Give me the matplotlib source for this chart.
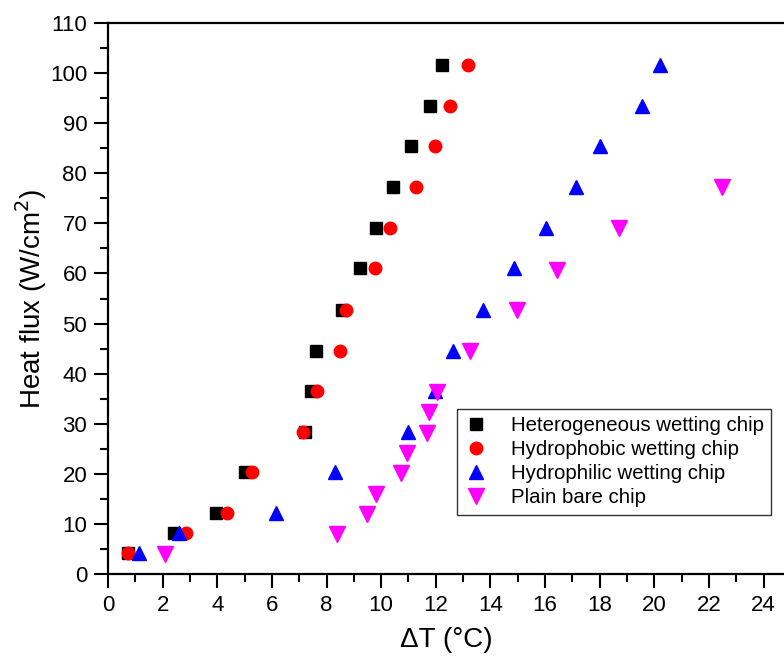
import numpy as np
import matplotlib.pyplot as plt
from matplotlib.ticker import MultipleLocator

# heat flux levels (W/cm^2)
q_het = [4.1, 8.1, 12.2, 20.3, 28.4, 36.5, 44.6, 52.8, 61.0, 69.1, 77.3, 85.4, 93.5, 101.7]
dt_het = [0.73, 2.41, 3.95, 5.01, 7.2, 7.43, 7.6, 8.56, 9.22, 9.8, 10.43, 11.09, 11.78, 12.22]

q_phob = [4.1, 8.1, 12.2, 20.3, 28.4, 36.5, 44.6, 52.8, 61.0, 69.1, 77.3, 85.4, 93.5, 101.7]
dt_phob = [0.73, 2.85, 4.34, 5.27, 7.15, 7.65, 8.49, 8.73, 9.77, 10.34, 11.29, 11.98, 12.51, 13.18]

q_phil = [4.1, 8.1, 12.2, 20.3, 28.4, 36.5, 44.6, 52.8, 61.0, 69.1, 77.3, 85.4, 93.5, 101.7]
dt_phil = [1.15, 2.61, 6.14, 8.32, 11.0, 11.98, 12.63, 13.73, 14.86, 16.05, 17.12, 18.03, 19.56, 20.22]

q_bare = [3.9, 7.9, 12.0, 16.0, 20.1, 24.1, 28.2, 32.3, 36.4, 44.6, 52.7, 60.6, 69.0, 77.2]
dt_bare = [2.09, 8.4, 9.49, 9.81, 10.74, 10.93, 11.68, 11.75, 12.05, 13.27, 14.97, 16.44, 18.71, 22.49]

plt.rcParams['font.family'] = ['Liberation Sans', 'DejaVu Sans']

fig = plt.figure(figsize=(7.84, 6.57), dpi=100)
ax = fig.add_axes([108 / 784, 83 / 657, 1 - 108 / 784, 551 / 657])

ax.plot(dt_het, q_het, 's', color='black', ms=8, label='Heterogeneous wetting chip')
ax.plot(dt_phob, q_phob, 'o', color='red', ms=9, label='Hydrophobic wetting chip')
ax.plot(dt_phil, q_phil, '^', color='blue', ms=10.5, label='Hydrophilic wetting chip')
ax.plot(dt_bare, q_bare, 'v', color='magenta', ms=11, label='Plain bare chip')

ax.set_xlim(0, 24.75)
ax.set_ylim(0, 110)
ax.xaxis.set_major_locator(MultipleLocator(2))
ax.xaxis.set_minor_locator(MultipleLocator(1))
ax.yaxis.set_major_locator(MultipleLocator(10))
ax.yaxis.set_minor_locator(MultipleLocator(5))

ax.spines['right'].set_visible(False)
for s in ['left', 'bottom', 'top']:
    ax.spines[s].set_linewidth(1.6)
ax.tick_params(which='major', direction='out', length=10, width=1.5)
ax.tick_params(which='minor', direction='out', length=6, width=1.5)
ax.tick_params(axis='y', labelsize=16, pad=5)
ax.tick_params(axis='x', labelsize=16, pad=5)

ax.set_xlabel('ΔT (°C)', fontsize=20, labelpad=8)
ax.set_ylabel('Heat flux (W/cm$^2$)', fontsize=20, labelpad=1)

leg = ax.legend(loc='upper left', bbox_to_anchor=(457 / 784, 1 - 409 / 657),
                bbox_transform=fig.transFigure, fontsize=14.7, frameon=True,
                fancybox=False, edgecolor='black', handlelength=1.2,
                handletextpad=1.1, labelspacing=0.25, borderpad=0.35,
                borderaxespad=0)
leg.get_frame().set_linewidth(1.0)

fig.savefig('out.png', dpi=100)
